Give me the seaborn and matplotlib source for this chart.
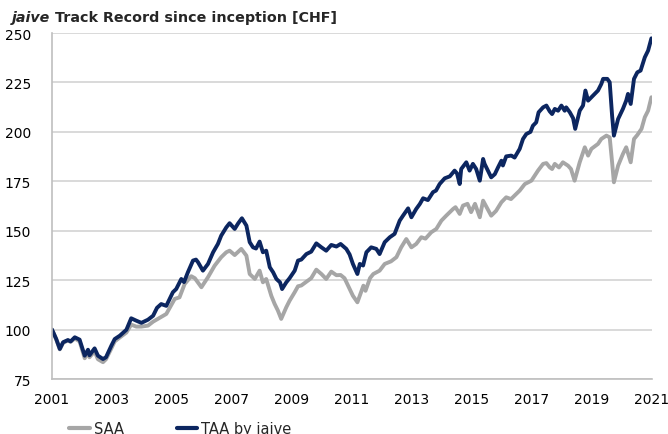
"""jaive track record chart (SAA vs TAA)."""
import matplotlib
matplotlib.use("Agg")
import matplotlib.pyplot as plt
from matplotlib.lines import Line2D
import seaborn as sns
import pandas as pd

# values (decimal year, index value)
taa_years = [
    2001.00, 2001.14, 2001.26, 2001.37, 2001.53, 2001.62, 2001.76, 2001.92,
    2002.09, 2002.20, 2002.25, 2002.42, 2002.53, 2002.70, 2002.80, 2002.98,
    2003.09, 2003.26, 2003.48, 2003.64, 2003.81, 2003.98, 2004.20, 2004.37,
    2004.50, 2004.64, 2004.81, 2005.03, 2005.14, 2005.31, 2005.40, 2005.53,
    2005.70, 2005.80, 2005.87, 2006.03, 2006.20, 2006.37, 2006.53, 2006.64,
    2006.81, 2006.92, 2007.09, 2007.20, 2007.33, 2007.48, 2007.59, 2007.70,
    2007.80, 2007.92, 2008.03, 2008.14, 2008.26, 2008.37, 2008.48, 2008.60,
    2008.67, 2008.81, 2008.92, 2009.09, 2009.20, 2009.31, 2009.48, 2009.64,
    2009.81, 2009.98, 2010.14, 2010.31, 2010.48, 2010.62, 2010.81, 2010.92,
    2011.03, 2011.18, 2011.26, 2011.37, 2011.48, 2011.64, 2011.81, 2011.92,
    2012.09, 2012.26, 2012.42, 2012.59, 2012.70, 2012.87, 2012.98, 2013.14,
    2013.26, 2013.37, 2013.53, 2013.70, 2013.80, 2013.92, 2014.09, 2014.26,
    2014.42, 2014.50, 2014.59, 2014.64, 2014.81, 2014.92, 2015.03, 2015.14,
    2015.26, 2015.37, 2015.42, 2015.53, 2015.64, 2015.76, 2015.87, 2015.98,
    2016.03, 2016.14, 2016.31, 2016.42, 2016.59, 2016.70, 2016.81, 2016.95,
    2017.03, 2017.14, 2017.22, 2017.37, 2017.48, 2017.59, 2017.67, 2017.76,
    2017.87, 2017.98, 2018.09, 2018.14, 2018.26, 2018.37, 2018.44, 2018.59,
    2018.70, 2018.78, 2018.87, 2018.98, 2019.09, 2019.20, 2019.31, 2019.37,
    2019.51, 2019.59, 2019.67, 2019.73, 2019.87, 2020.03, 2020.14, 2020.20,
    2020.29, 2020.40, 2020.51, 2020.62, 2020.76, 2020.87, 2020.98,
]
taa_values = [
    100.0, 95.3, 90.2, 93.6, 94.7, 94.0, 96.1, 94.9,
    86.8, 89.8, 87.0, 90.5, 86.8, 85.1, 86.0, 91.9,
    95.2, 96.9, 99.9, 105.7, 104.5, 103.4, 105.0, 107.0,
    111.0, 112.9, 112.0, 118.9, 120.5, 125.6, 124.0, 129.0,
    134.9, 135.4, 134.0, 129.8, 133.2, 139.1, 143.3, 147.5,
    151.7, 153.8, 150.9, 153.6, 156.3, 152.6, 144.2, 141.6,
    141.0, 144.5, 139.1, 139.9, 131.5, 129.0, 125.6, 123.9,
    120.5, 123.9, 126.0, 129.8, 134.9, 135.4, 138.2, 139.4,
    143.6, 141.6, 139.9, 142.8, 142.0, 143.3, 140.8, 138.0,
    133.2, 128.1, 133.2, 132.4, 139.1, 141.6, 140.8, 138.2,
    144.2, 146.7, 148.4, 155.1, 157.6, 161.3, 156.8, 161.0,
    163.5, 166.4, 165.5, 169.5, 170.3, 173.6, 176.5, 177.5,
    180.4, 179.0, 173.6, 181.2, 184.6, 180.4, 183.8, 181.2,
    175.3, 186.3, 183.8, 180.4, 177.0, 178.6, 182.1, 185.4,
    183.0, 187.6, 188.0, 187.0, 191.4, 196.4, 198.9, 200.0,
    203.1, 204.8, 209.9, 212.4, 213.3, 210.4, 209.0, 211.6,
    210.7, 213.3, 210.7, 212.4, 209.9, 206.9, 201.5, 210.7,
    213.3, 220.9, 215.8, 217.5, 219.2, 220.9, 224.2, 226.8,
    226.8, 225.1, 208.2, 198.1, 206.5, 211.6, 215.8, 219.2,
    214.1, 226.8, 230.1, 231.0, 237.7, 241.1, 247.3,
]

saa_years = [
    2001.00, 2001.14, 2001.26, 2001.37, 2001.53, 2001.62, 2001.76, 2001.92,
    2002.09, 2002.20, 2002.25, 2002.42, 2002.53, 2002.70, 2002.80, 2002.98,
    2003.09, 2003.26, 2003.48, 2003.64, 2003.81, 2003.98, 2004.20, 2004.37,
    2004.53, 2004.81, 2005.09, 2005.25, 2005.42, 2005.64, 2005.76, 2005.98,
    2006.20, 2006.42, 2006.64, 2006.81, 2006.92, 2007.09, 2007.31, 2007.48,
    2007.59, 2007.76, 2007.92, 2008.03, 2008.14, 2008.31, 2008.42, 2008.53,
    2008.64, 2008.81, 2008.92, 2009.09, 2009.20, 2009.31, 2009.48, 2009.64,
    2009.81, 2009.98, 2010.14, 2010.31, 2010.48, 2010.62, 2010.75, 2010.87,
    2011.03, 2011.18, 2011.38, 2011.45, 2011.60, 2011.71, 2011.92, 2012.09,
    2012.30, 2012.48, 2012.64, 2012.81, 2012.98, 2013.14, 2013.31, 2013.45,
    2013.64, 2013.81, 2013.98, 2014.14, 2014.37, 2014.45, 2014.59, 2014.70,
    2014.85, 2014.97, 2015.10, 2015.26, 2015.37, 2015.53, 2015.64, 2015.80,
    2015.98, 2016.14, 2016.30, 2016.42, 2016.59, 2016.76, 2016.98, 2017.09,
    2017.20, 2017.37, 2017.48, 2017.59, 2017.67, 2017.76, 2017.90, 2018.03,
    2018.20, 2018.30, 2018.42, 2018.59, 2018.76, 2018.87, 2018.98, 2019.20,
    2019.31, 2019.48, 2019.59, 2019.67, 2019.73, 2019.87, 2020.03, 2020.14,
    2020.29, 2020.40, 2020.51, 2020.65, 2020.76, 2020.87, 2020.98,
]
saa_values = [
    100.0, 95.0, 90.0, 93.3, 94.5, 93.8, 95.5, 94.0,
    85.5, 88.5, 86.0, 89.0, 85.0, 83.5, 85.0, 90.5,
    94.0, 96.0, 98.5, 102.5, 101.5, 101.5, 102.0, 104.0,
    105.4, 107.9, 115.5, 116.3, 123.0, 127.0, 126.0, 121.4,
    126.5, 132.3, 136.6, 139.1, 139.9, 137.7, 140.8, 137.4,
    128.1, 125.6, 129.8, 123.9, 125.6, 117.1, 113.0, 109.6,
    105.4, 111.3, 114.6, 118.9, 121.9, 122.3, 124.2, 126.0,
    130.3, 128.1, 125.6, 129.3, 127.5, 127.6, 126.0, 122.2,
    117.1, 113.8, 122.2, 119.6, 126.0, 128.1, 129.8, 133.2,
    134.5, 136.6, 141.6, 145.8, 141.6, 143.3, 146.7, 146.0,
    149.2, 150.9, 155.1, 157.6, 161.0, 161.9, 158.5, 162.7,
    163.6, 159.4, 163.6, 156.8, 165.2, 160.7, 157.6, 160.0,
    164.4, 166.9, 166.0, 167.8, 170.3, 173.6, 175.3, 177.8,
    180.4, 183.8, 184.2, 182.1, 181.2, 183.8, 182.0, 184.6,
    182.9, 181.2, 175.3, 184.6, 192.2, 188.0, 191.4, 193.9,
    196.4, 198.1, 197.2, 184.6, 174.5, 182.9, 188.8, 192.2,
    184.6, 196.4, 198.4, 201.5, 207.4, 210.7, 217.5,
]

series_names = ["SAA", "TAA by jaive"]
series_colors = ["#a6a6a6", "#0c2660"]
x_ticks = list(range(2001, 2022, 2))
y_ticks = list(range(75, 251, 25))

df = pd.concat([
    pd.DataFrame({"year": saa_years, "value": saa_values, "series": series_names[0]}),
    pd.DataFrame({"year": taa_years, "value": taa_values, "series": series_names[1]}),
])

sns.set_style("white")
plt.rcParams["font.family"] = ["DejaVu Sans"]

fig = plt.figure(figsize=(6.68, 4.35), dpi=100)
ax = fig.add_axes([52 / 668, 1 - 380 / 435, 600 / 668, 346 / 435])

sns.lineplot(data=df, x="year", y="value", hue="series",
             palette=dict(zip(series_names, series_colors)),
             linewidth=2.8, legend=False, ax=ax, sort=False)

ax.set_xlim(2001, 2021)
ax.set_ylim(75, 250)
ax.set_xticks(x_ticks)
ax.set_yticks(y_ticks)
ax.set_xlabel("")
ax.set_ylabel("")
ax.yaxis.grid(True, color="#d9d9d9", linewidth=1.4)
ax.set_axisbelow(True)
ax.tick_params(axis="x", length=0, pad=9, labelsize=10, colors="#000000")
ax.tick_params(axis="y", length=0, pad=15, labelsize=10, colors="#000000")
for side in ["top", "right"]:
    ax.spines[side].set_visible(False)
for side in ["left", "bottom"]:
    ax.spines[side].set_color("#bfbfbf")
    ax.spines[side].set_linewidth(1.2)

# title: "jaive" in bold italic, the rest bold
t1 = fig.text(12 / 668, 1 - 18 / 435, "jaive", fontsize=10.3, fontweight="bold",
              fontstyle="italic", va="center", ha="left")
fig.canvas.draw()
bb = t1.get_window_extent(renderer=fig.canvas.get_renderer())
fig.text(bb.x1 / fig.bbox.width, 1 - 18 / 435, " Track Record since inception [CHF]",
         fontsize=10.3, fontweight="bold", va="center", ha="left")

handles = [Line2D([], [], color=c, linewidth=3) for c in series_colors]
fig.legend(handles, series_names, ncol=2, frameon=False, fontsize=10.5,
           loc="center left", bbox_to_anchor=(62 / 668, 1 - 430 / 435),
           borderpad=0, handlelength=1.4, handletextpad=0.3, columnspacing=3.6)

fig.savefig("out.png", dpi=100)
